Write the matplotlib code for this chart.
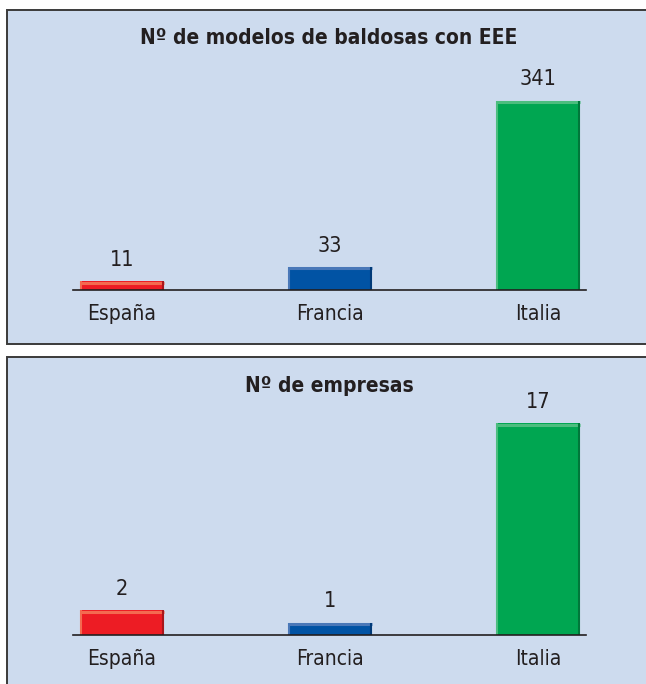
import matplotlib
matplotlib.use('Agg')
from matplotlib import pyplot as plt
from matplotlib.patches import Rectangle
from matplotlib import transforms
import numpy as np

# data
paises = ['España', 'Francia', 'Italia']
modelos = [11, 33, 341]
empresas = [2, 1, 17]
titulo_modelos = 'Nº de modelos de baldosas con EEE'
titulo_empresas = 'Nº de empresas'

colores = ['#ed1c24', '#0153a4', '#00a651']
claros = ['#f46a50', '#4a78b8', '#4cbd7e']
oscuros = ['#a8161b', '#013a78', '#00783a']

plt.rcParams['font.family'] = ['DejaVu Sans']
plt.rcParams['font.stretch'] = 'condensed'

W, H = 646, 684
BG = '#cddbee'
BORDE = '#3a3a3a'


def fx(px):
    return px / W


def fy(py):
    return 1 - py / H


fig = plt.figure(figsize=(W / 100, H / 100), dpi=100)
fig.patch.set_facecolor('white')

# panel backgrounds (right / bottom edges run off the page)
fig.patches.append(Rectangle((fx(7), fy(344)), fx(700), (344 - 10) / H,
                             transform=fig.transFigure, facecolor=BG,
                             edgecolor=BORDE, lw=1.4, zorder=-5))
fig.patches.append(Rectangle((fx(7), fy(720)), fx(700), (720 - 357) / H,
                             transform=fig.transFigure, facecolor=BG,
                             edgecolor=BORDE, lw=1.4, zorder=-5))


def draw_panel(ax, values, title, title_y, ymax, scale=None):
    ax.set_facecolor('none')
    if scale is not None:
        ax.set_yscale('function', functions=scale)
    x = np.arange(len(values))
    bars = ax.bar(x, values, width=0.404, color=colores, zorder=2)
    for rect, light, dark in zip(bars, claros, oscuros):
        x0 = rect.get_x()
        x1 = x0 + rect.get_width()
        top = rect.get_height()
        down = transforms.offset_copy(ax.transData, fig=fig, y=-1.5, units='dots')
        ax.plot([x0, x1], [top, top], color=light, lw=2.2, transform=down,
                solid_capstyle='butt', zorder=3)
        ax.plot([x1, x1], [0, top], color=dark, lw=1.5,
                transform=transforms.offset_copy(ax.transData, fig=fig, x=-1, units='dots'),
                solid_capstyle='butt', zorder=3)
        ax.plot([x0, x0], [0, top], color=light, lw=1.5,
                transform=transforms.offset_copy(ax.transData, fig=fig, x=1, units='dots'),
                solid_capstyle='butt', zorder=3)
        ax.annotate(f'{top:g}', (rect.get_x() + rect.get_width() / 2, top),
                    xytext=(0, 8), textcoords='offset points', ha='center',
                    va='bottom', fontsize=15.5, color='#231f20')
    ax.set_xlim(-0.236, 2.231)
    ax.set_ylim(0, ymax)
    for s in ['top', 'left', 'right']:
        ax.spines[s].set_visible(False)
    ax.spines['bottom'].set_color('#231f20')
    ax.spines['bottom'].set_linewidth(1.2)
    ax.spines['bottom'].set_zorder(4)
    ax.set_yticks([])
    ax.set_xticks(x)
    ax.set_xticklabels(paises, fontsize=15, color='#231f20')
    ax.tick_params(axis='x', length=0, pad=10)
    fig.text(fx(329), fy(title_y), title, ha='center', va='baseline',
             fontsize=15, fontweight='bold', color='#231f20')


ax1 = fig.add_axes([fx(73), fy(290), (586 - 73) / W, (290 - 60) / H])
draw_panel(ax1, modelos, titulo_modelos, 44, 423,
           scale=(lambda v: np.sign(v) * np.abs(v) ** 0.9,
                  lambda v: np.sign(v) * np.abs(v) ** (1 / 0.9)))

ax2 = fig.add_axes([fx(73), fy(635), (586 - 73) / W, (635 - 400) / H])
draw_panel(ax2, empresas, titulo_empresas, 392, 18.85)

fig.savefig('out.png', dpi=100)
